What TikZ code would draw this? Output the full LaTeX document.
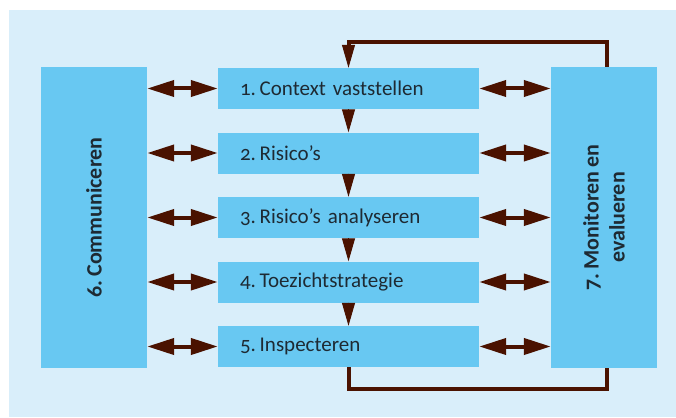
\documentclass[tikz,border=0pt]{standalone}
\usepackage{fontspec}
\setmainfont{Carlito}[Numbers=OldStyle, WordSpace=0.85]
\usetikzlibrary{arrows.meta}
\definecolor{bgcol}{HTML}{D9EEFA}
\definecolor{boxcol}{HTML}{68C8F2}
\definecolor{brown}{HTML}{4A1200}
\definecolor{txtcol}{HTML}{1E2A33}
\frenchspacing
\newcommand{\nsp}{\hspace{0.18em}}
\begin{document}
\begin{tikzpicture}[x=1pt,y=-1pt,
  stepbox/.style={fill=boxcol, draw=none, text width=217pt, align=left, inner xsep=22pt, inner ysep=0pt, minimum height=41pt, text=txtcol, font=\fontsize{21}{23}\selectfont},
  sidebox/.style={fill=boxcol, draw=none, minimum width=106pt, minimum height=301pt, inner sep=0pt},
  sidetext/.style={rotate=90, align=center, text=txtcol, font=\fontsize{22}{26}\selectfont\bfseries},
  dbl/.style={draw=brown, fill=brown, line width=4pt, {Triangle[length=27pt,width=16pt]}-{Triangle[length=27pt,width=16pt]}},
  varrow/.style={draw=brown, fill=brown, line width=1pt, -{Triangle[length=23pt,width=13pt]}},
  loopline/.style={draw=brown, line width=4pt}
]
\useasboundingbox (0,0) rectangle (676,417);
\fill[bgcol] (9,10) rectangle (676,417);

\node[sidebox] (comm) at (94,217.5) {};
\node[sidebox] (mon) at (604,217.5) {};
\node[sidetext] (commtext) at (comm.center) {6.\nsp Communiceren};
\node[sidetext] (montext) at (mon.center) {7.\nsp Monitoren en\\evalueren};

\node[stepbox] (s1) at (348.5,88.5) {1.\nsp Context vaststellen};
\node[stepbox] (s2) at (348.5,153) {2.\nsp Risico’s};
\node[stepbox] (s3) at (348.5,217.5) {3.\nsp Risico’s analyseren};
\node[stepbox] (s4) at (348.5,282) {4.\nsp Toezichtstrategie};
\node[stepbox] (s5) at (348.5,346.5) {5.\nsp Inspecteren};

\foreach \s in {s1,s2,s3,s4,s5}{
  \draw[dbl] (comm.east |- \s.west) -- (\s.west);
  \draw[dbl] (\s.east) -- (mon.west |- \s.east);
}

\draw[varrow] (s1.south) -- (s2.north);
\draw[varrow] (s2.south) -- (s3.north);
\draw[varrow] (s3.south) -- (s4.north);
\draw[varrow] (s4.south) -- (s5.north);

\draw[loopline] ([xshift=3pt]mon.north) -- ++(0,-25) -| ([yshift=22pt]s1.north);
\draw[varrow] ([yshift=25pt]s1.north) -- (s1.north);
\draw[loopline] ([xshift=3pt]mon.south) -- ++(0,21) -| (s5.south);
\end{tikzpicture}
\end{document}
